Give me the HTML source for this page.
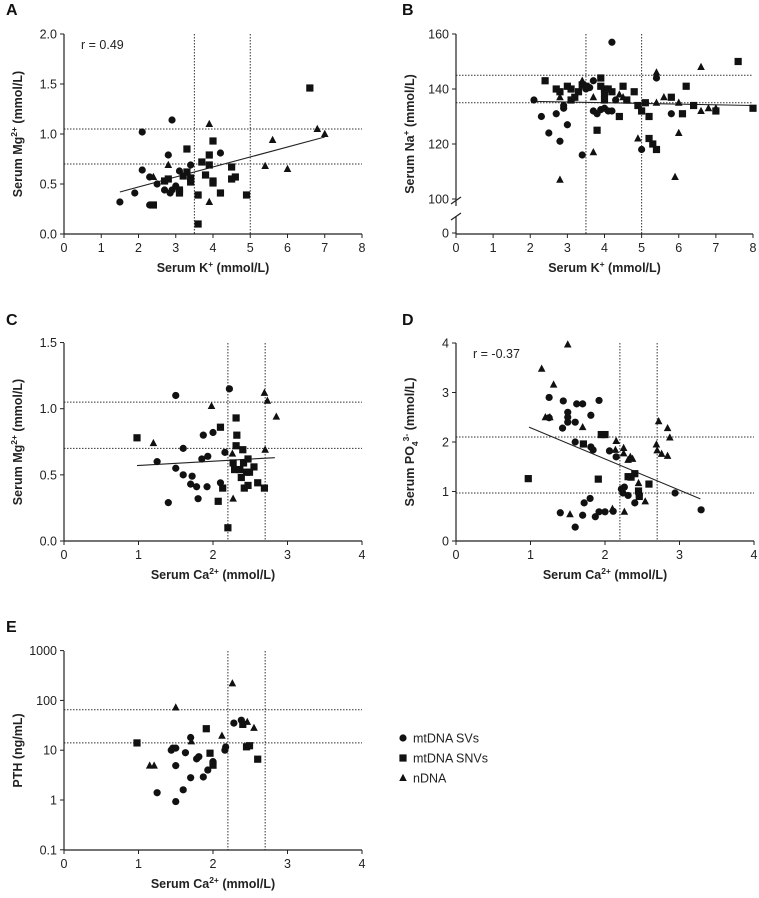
<!DOCTYPE html>
<html><head><meta charset="utf-8"><style>
html,body{margin:0;padding:0;background:#fff;}
svg{display:block;font-family:"Liberation Sans",Arial,sans-serif;}
</style></head><body>
<svg id="fig" width="759" height="898" viewBox="0 0 759 898"></svg>
<script>
// ---------- DATA ----------
const aCircX=[1.5,1.9,2.1,2.1,2.3,2.3,2.5,2.7,2.8,2.9,2.85,2.9,3.0,3.1,3.4,4.2];
const aCircY=[0.32,0.41,1.02,0.64,0.57,0.29,0.5,0.44,0.79,1.14,0.41,0.44,0.48,0.63,0.69,0.81];
const aSqX=[2.4,2.7,2.8,3.1,3.1,3.2,3.3,3.3,3.4,3.4,3.6,3.6,3.7,3.8,3.9,3.9,4.0,4.0,4.0,4.2,4.5,4.5,4.6,4.9,6.6];
const aSqY=[0.29,0.53,0.55,0.41,0.44,0.58,0.62,0.85,0.52,0.56,0.1,0.39,0.72,0.59,0.79,0.69,0.93,0.53,0.51,0.41,0.67,0.55,0.57,0.39,1.46];
const aTriX=[2.8,2.4,3.9,3.9,5.4,5.6,6.0,6.8,7.0];
const aTriY=[0.69,0.57,1.1,0.32,0.68,0.94,0.65,1.05,1.0];
const aFitX=[1.5,7.0], aFitY=[0.42,0.97];

const bCircX=[2.1,2.3,2.5,2.7,2.8,2.9,2.9,3.0,3.4,3.5,3.7,3.7,3.8,3.9,4.0,4.2,4.2,4.3,5.0,5.4,5.8,3.6,4.1];
const bCircY=[136,130,124,131,121,133,134,127,116,140,143,132,131,132.5,133,132,157,136,118,144,131,140.5,132];
const bSqX=[2.4,2.7,2.8,3.0,3.1,3.1,3.2,3.3,3.4,3.5,3.9,3.9,4.0,4.0,4.0,4.1,4.2,3.8,4.4,4.5,4.6,4.8,4.9,5.0,5.1,5.2,5.2,5.3,5.4,5.8,6.1,6.2,6.4,7.0,7.6,8.0];
const bSqY=[143,140,139,141,140,136,137,139,141.5,141,144,141,140,138.5,136,140,139,125,130,141,136,139,134,132,135,122,130,120,118,137,131,141,134,132,150,133];
const bTriX=[2.8,2.8,3.4,3.7,3.7,4.4,4.5,4.9,5.4,5.4,5.6,5.9,6.0,6.0,6.6,6.6,6.8,7.0];
const bTriY=[137,107,143,137,117,138,137,122,146,135,137,108,135,124,148,132,133,133];
const bFitX=[2.1,8.0], bFitY=[135.5,134];

const cCircX=[1.25,1.4,1.5,1.5,1.6,1.6,1.7,1.72,1.78,1.8,1.85,1.87,1.92,1.93,2.0,2.1,2.16,2.22];
const cCircY=[0.6,0.29,1.1,0.55,0.7,0.5,0.43,0.49,0.41,0.32,0.62,0.8,0.41,0.64,0.82,0.44,0.67,1.15];
const cSqX=[0.98,2.07,2.1,2.13,2.2,2.27,2.29,2.31,2.32,2.31,2.36,2.38,2.4,2.41,2.42,2.45,2.47,2.47,2.49,2.55,2.6,2.69];
const cSqY=[0.78,0.3,0.86,0.4,0.1,0.59,0.54,0.93,0.8,0.72,0.54,0.48,0.69,0.59,0.4,0.52,0.62,0.42,0.52,0.56,0.44,0.4];
const cTriX=[1.2,1.98,2.26,2.27,2.69,2.7,2.73,2.85];
const cTriY=[0.74,1.02,0.66,0.32,1.12,0.69,1.06,0.94];
const cFitX=[0.98,2.83], cFitY=[0.57,0.63];

const dCircX=[1.25,1.25,1.4,1.43,1.44,1.5,1.5,1.5,1.6,1.6,1.6,1.62,1.7,1.7,1.72,1.8,1.81,1.81,1.84,1.87,1.92,1.92,2.0,2.06,2.11,2.15,2.22,2.26,2.24,2.31,2.4,2.46,2.94,3.29];
const dCircY=[2.9,2.49,0.57,2.28,2.83,2.6,2.5,2.4,0.28,2.0,2.4,2.77,2.77,0.52,0.77,0.86,2.54,1.9,1.84,0.49,2.84,0.59,0.59,1.82,0.6,1.7,1.05,1.09,0.97,0.92,0.77,0.92,0.97,0.63];
const dSqX=[0.97,1.71,1.91,1.95,2.0,2.31,2.35,2.4,2.45,2.46,2.59];
const dSqY=[1.26,1.96,1.25,2.15,2.15,1.3,1.29,1.36,1.01,0.9,1.15];
const dTriX=[1.15,1.31,1.5,1.2,1.26,1.53,1.7,2.15,2.14,2.25,2.25,2.26,2.1,2.31,2.34,2.37,2.45,2.54,2.69,2.7,2.72,2.76,2.84,2.87,2.84];
const dTriY=[3.48,3.16,3.97,2.5,2.5,0.54,2.3,2.02,1.84,1.88,1.77,0.59,0.65,1.64,1.7,1.66,1.17,0.8,1.95,1.83,2.42,1.76,2.28,2.09,1.72];
const dFitX=[0.98,3.28], dFitY=[2.3,0.85];

const eCircX=[1.25,1.5,1.6,1.7,1.5,1.87,1.93,2.0,1.78,1.81,1.63,1.44,1.46,1.5,1.7,2.0,2.16,2.17,2.28,2.38];
const eCircY=[1.4,0.93,1.6,2.8,4.9,2.9,4,5.3,6.7,7.4,8.9,10,11,11,18,5.9,10,11.6,35,40];
const eSqX=[0.98,1.91,1.96,2.0,2.4,2.45,2.49,2.6];
const eSqY=[14,27,8.7,5,33,11.7,12.3,6.6];
const eTriX=[1.15,1.21,1.5,1.71,2.12,2.26,2.46,2.55];
const eTriY=[4.9,4.9,72,15,19.5,220,37,28];

const xTicksK=["0","1","2","3","4","5","6","7","8"];
const xTicksCa=["0","1","2","3","4"];
const aYTicks=["0.0","0.5","1.0","1.5","2.0"];
const bYTicks=["100","120","140","160"];
const cYTicks=["0.0","0.5","1.0","1.5"];
const dYTicks=["0","1","2","3","4"];
const eYTicks=["0.1","1","10","100","1000"];

// ---------- DRAW ----------
const svg=document.getElementById('fig');
const NS='http://www.w3.org/2000/svg';
function mk(tag,attrs,parent){const e=document.createElementNS(NS,tag);for(const k in attrs)e.setAttribute(k,attrs[k]);(parent||svg).appendChild(e);return e;}
function txt(s,attrs,parent){const e=mk('text',attrs,parent);e.textContent=s;return e;}

function panel(cfg){
  const g=mk('g',{});
  
  
  const X=v=>cfg.x0+(v-cfg.xmin)/(cfg.xmax-cfg.xmin)*(cfg.x1-cfg.x0);
  const Y=cfg.Y;
  // reference lines
  cfg.vref.forEach(v=>{const l=mk('line',{x1:X(v),x2:X(v),y1:cfg.yt,y2:cfg.yb,stroke:'#333','stroke-width':1,'stroke-dasharray':'1.5,1.5'},g);
    });
  cfg.href.forEach(v=>{const l=mk('line',{x1:cfg.x0,x2:cfg.x1,y1:Y(v),y2:Y(v),stroke:'#333','stroke-width':1,'stroke-dasharray':'1.5,1.5'},g);
    });
  // axes
  const ya=mk('line',{x1:cfg.x0,x2:cfg.x0,y1:cfg.yt,y2:cfg.yb,stroke:'#222','stroke-width':1.2},g);
  
  const xa=mk('line',{x1:cfg.x0,x2:cfg.x1,y1:cfg.yb,y2:cfg.yb,stroke:'#222','stroke-width':1.2},g);
  
  cfg.xticks.forEach(t=>{const x=X(parseFloat(t));
    mk('line',{x1:x,x2:x,y1:cfg.yb,y2:cfg.yb+4,stroke:'#222'},g);
    const e=txt(t,{x:x,y:cfg.yb+18,'font-size':12.5,'text-anchor':'middle',fill:'#222'},g);
    });
  cfg.yticks.forEach((t,i)=>{const y=cfg.ytickPos(t,i);
    mk('line',{x1:cfg.x0-4,x2:cfg.x0,y1:y,y2:y,stroke:'#222'},g);
    const e=txt(t,{x:cfg.x0-7,y:y+4.5,'font-size':12.5,'text-anchor':'end',fill:'#222'},g);
    });
  // titles
  const xt=mk('text',{x:(cfg.x0+cfg.x1)/2,y:cfg.yb+38,'font-size':12.5,'font-weight':'bold','text-anchor':'middle',fill:'#222'},g);
  xt.innerHTML=cfg.xtitle;
  const yc=(cfg.yt+cfg.yb)/2, yx=cfg.x0-42;
  const yt=mk('text',{x:yx,y:yc,'font-size':12.5,'font-weight':'bold','text-anchor':'middle',fill:'#222',transform:`rotate(-90 ${yx} ${yc})`},g);
  yt.innerHTML=cfg.ytitle;
  const pl=txt(cfg.letter,{x:cfg.lx,y:cfg.ly,'font-size':16,'font-weight':'bold',fill:'#111'},g);
  
  if(cfg.r){const r=txt(cfg.r,{x:cfg.x0+17,y:cfg.yt+15,'font-size':12.5,fill:'#222'},g);
    }
  // fit
  if(cfg.fitX){const f=mk('line',{x1:X(cfg.fitX[0]),y1:Y(cfg.fitY[0]),x2:X(cfg.fitX[1]),y2:Y(cfg.fitY[1]),stroke:'#222','stroke-width':1.1},g);
    }
  // points
  cfg.circX.forEach((v,i)=>{const c=mk('circle',{cx:X(v),cy:Y(cfg.circY[i]),r:3.6,fill:'#111'},g);
    });
  cfg.sqX.forEach((v,i)=>{const x=X(v),y=Y(cfg.sqY[i]);const s=mk('rect',{x:x-3.6,y:y-3.6,width:7.2,height:7.2,fill:'#111'},g);
    });
  cfg.triX.forEach((v,i)=>{const x=X(v),y=Y(cfg.triY[i]);const t=mk('polygon',{points:`${x},${y-4.2} ${x-3.8},${y+3} ${x+3.8},${y+3}`,fill:'#111'},g);
    });
}

// A
const aY=v=>234-v*100;
panel({name:'panel-a',letter:'A',lx:6,ly:15,x0:64,x1:362,xmin:0,xmax:8,yt:34,yb:234,Y:aY,
  xticks:xTicksK,yticks:aYTicks,ytickPos:t=>aY(parseFloat(t)),vref:[3.5,5],href:[0.7,1.05],
  xtitle:'Serum K<tspan font-size="8.5" dy="-5">+</tspan><tspan dy="5"> (mmol/L)</tspan>',
  ytitle:'Serum Mg<tspan font-size="8.5" dy="-5">2+</tspan><tspan dy="5"> (mmol/L)</tspan>',
  r:'r = 0.49',circX:aCircX,circY:aCircY,sqX:aSqX,sqY:aSqY,triX:aTriX,triY:aTriY,fitX:aFitX,fitY:aFitY});

// B (broken axis)
const bY=v=>v>=100?199-(v-100)*(165/60):233-v*0.34;
panel({name:'panel-b',letter:'B',lx:402,ly:15,x0:456,x1:753,xmin:0,xmax:8,yt:34,yb:234,Y:bY,
  xticks:xTicksK,yticks:bYTicks.concat(["0"]),ytickPos:t=>t==="0"?233:bY(parseFloat(t)),vref:[3.5,5],href:[135,145],
  xtitle:'Serum K<tspan font-size="8.5" dy="-5">+</tspan><tspan dy="5"> (mmol/L)</tspan>',
  ytitle:'Serum Na<tspan font-size="8.5" dy="-5">+</tspan><tspan dy="5"> (mmol/L)</tspan>',
  circX:bCircX,circY:bCircY,sqX:bSqX,sqY:bSqY,triX:bTriX,triY:bTriY,fitX:bFitX,fitY:bFitY});
// axis break
mk('rect',{x:452,y:206,width:8,height:10,fill:'#fff'});
const br1=mk('line',{x1:451,y1:204,x2:461,y2:197,stroke:'#222','stroke-width':1.2});

const br2=mk('line',{x1:451,y1:220,x2:461,y2:213,stroke:'#222','stroke-width':1.2});


// C
const cY=v=>541-v*132.3;
panel({name:'panel-c',letter:'C',lx:6,ly:325,x0:64,x1:362,xmin:0,xmax:4,yt:343,yb:541,Y:cY,
  xticks:xTicksCa,yticks:cYTicks,ytickPos:t=>cY(parseFloat(t)),vref:[2.2,2.7],href:[0.7,1.05],
  xtitle:'Serum Ca<tspan font-size="8.5" dy="-5">2+</tspan><tspan dy="5"> (mmol/L)</tspan>',
  ytitle:'Serum Mg<tspan font-size="8.5" dy="-5">2+</tspan><tspan dy="5"> (mmol/L)</tspan>',
  circX:cCircX,circY:cCircY,sqX:cSqX,sqY:cSqY,triX:cTriX,triY:cTriY,fitX:cFitX,fitY:cFitY});

// D
const dY=v=>541-v*49.5;
panel({name:'panel-d',letter:'D',lx:402,ly:325,x0:456,x1:754,xmin:0,xmax:4,yt:343,yb:541,Y:dY,
  xticks:xTicksCa,yticks:dYTicks,ytickPos:t=>dY(parseFloat(t)),vref:[2.2,2.7],href:[0.97,2.1],
  xtitle:'Serum Ca<tspan font-size="8.5" dy="-5">2+</tspan><tspan dy="5"> (mmol/L)</tspan>',
  ytitle:'Serum PO<tspan font-size="8.5" dy="4">4</tspan><tspan font-size="8.5" dy="-9">3-</tspan><tspan dy="5"> (mmol/L)</tspan>',
  r:'r = -0.37',circX:dCircX,circY:dCircY,sqX:dSqX,sqY:dSqY,triX:dTriX,triY:dTriY,fitX:dFitX,fitY:dFitY});

// E
const eY=v=>800-Math.log10(v)*49.8;
panel({name:'panel-e',letter:'E',lx:6,ly:632,x0:64,x1:362,xmin:0,xmax:4,yt:651,yb:850,Y:eY,
  xticks:xTicksCa,yticks:eYTicks,ytickPos:t=>eY(parseFloat(t)),vref:[2.2,2.7],href:[14,65],
  xtitle:'Serum Ca<tspan font-size="8.5" dy="-5">2+</tspan><tspan dy="5"> (mmol/L)</tspan>',
  ytitle:'PTH (ng/mL)',
  circX:eCircX,circY:eCircY,sqX:eSqX,sqY:eSqY,triX:eTriX,triY:eTriY});

// legend
const lg=mk('g',{});

const le1=mk('circle',{cx:403,cy:738,r:3.6,fill:'#111'},lg);

const lt1=txt('mtDNA SVs',{x:413,y:742.5,'font-size':12.5,fill:'#222'},lg);

const le2=mk('rect',{x:399.4,y:754.4,width:7.2,height:7.2,fill:'#111'},lg);

const lt2=txt('mtDNA SNVs',{x:413,y:762.5,'font-size':12.5,fill:'#222'},lg);

const le3=mk('polygon',{points:'403,773.8 399.2,781 406.8,781',fill:'#111'},lg);

const lt3=txt('nDNA',{x:413,y:782.5,'font-size':12.5,fill:'#222'},lg);

</script>
</body></html>
